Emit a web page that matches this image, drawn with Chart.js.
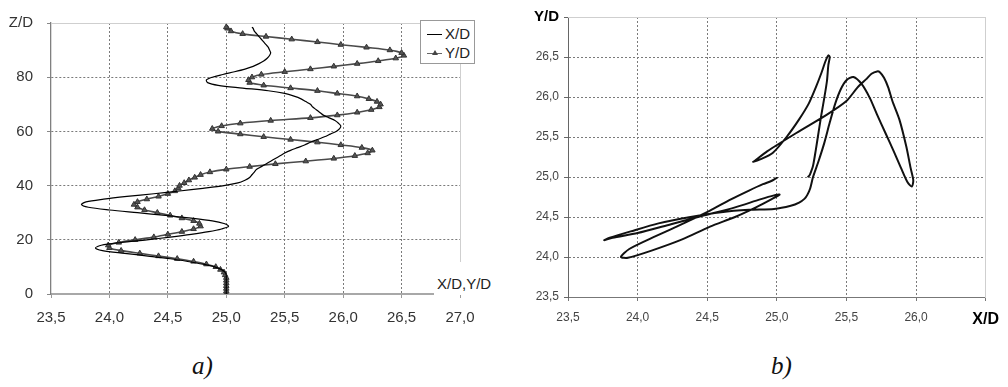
<!DOCTYPE html>
<html>
<head>
<meta charset="utf-8">
<script src="https://cdn.jsdelivr.net/npm/chart.js@4.4.1/dist/chart.umd.min.js"></script>
<style>
  body { margin: 0; background: #fff; font-family: "Liberation Sans", Arial, sans-serif; }
  #wrap { position: relative; width: 1008px; height: 387px; overflow: hidden; }
  canvas { position: absolute; top: 0; }
  #ca { left: 0; }
  #cb { left: 500px; }
  .lbl { position: absolute; color: #222; font-size: 15px; line-height: 18px; white-space: nowrap; }
  #legend { position: absolute; left: 420px; top: 20px; width: 53px; height: 42px; border: 1px solid #999; background: #fff; }
  #legend .ln { position: absolute; left: 6px; width: 15px; height: 0; }
  #legend .tri { position: absolute; left: 11px; width: 0; height: 0; border-left: 3px solid transparent; border-right: 3px solid transparent; border-bottom: 5px solid #444; }
  .cap { position: absolute; top: 352px; font-family: "Liberation Serif", serif; font-style: italic; font-size: 25px; color: #111; }
</style>
</head>
<body>
<div id="wrap">
  <canvas id="ca" width="500" height="340"></canvas>
  <canvas id="cb" width="508" height="340"></canvas>
  <div id="legend">
    <span class="ln" style="top:13px;border-top:1px solid #000"></span>
    <span class="lbl" style="left:24px;top:4px">X/D</span>
    <span class="ln" style="top:32px;border-top:1px solid #666"></span>
    <span class="tri" style="top:29px"></span>
    <span class="lbl" style="left:24px;top:23px">Y/D</span>
  </div>
  <div class="lbl" style="left:434px;top:262px;height:33px;padding-top:13px;box-sizing:border-box;background:#fff;padding-left:3px;padding-right:4px">X/D,Y/D</div>
  <div class="cap" style="left:192px">a)</div>
  <div class="cap" style="left:771px">b)</div>
</div>
<script>
const $ = id => document.getElementById(id);
const fmt = v => v.toFixed(1).replace(".", ",");
const is = (c, v) => !!(c && c.tick && Math.abs(c.tick.value - v) < 1e-6);

// height along the jet, Z/D
const zd = [0, 1, 2, 3, 4, 5, 6, 7, 8, 9,
  10, 11, 12, 13, 14, 15, 16, 17, 18, 19,
  20, 21, 22, 23, 24, 25, 26, 27, 28, 29,
  30, 31, 32, 33, 34, 35, 36, 37, 38, 39,
  40, 41, 42, 43, 44, 45, 46, 47, 48, 49,
  50, 51, 52, 53, 54, 55, 56, 57, 58, 59,
  60, 61, 62, 63, 64, 65, 66, 67, 68, 69,
  70, 71, 72, 73, 74, 75, 76, 77, 78, 79,
  80, 81, 82, 83, 84, 85, 86, 87, 88, 89,
  90, 91, 92, 93, 94, 95, 96, 97, 98, 98.5];

// X/D at each Z/D
const xd = [25.0, 25.0, 25.0, 25.0, 25.0, 25.0, 25.0, 25.0, 24.99, 24.96,
  24.9, 24.8, 24.67, 24.52, 24.33, 24.13, 23.94, 23.88, 23.93, 24.1,
  24.32, 24.52, 24.7, 24.85, 24.96, 25.02, 24.98, 24.88, 24.7, 24.48,
  24.24, 24.0, 23.82, 23.76, 23.8, 23.95, 24.15, 24.38, 24.6, 24.8,
  24.98, 25.1, 25.16, 25.2, 25.22, 25.24, 25.26, 25.3, 25.34, 25.38,
  25.42, 25.46, 25.5, 25.55, 25.61, 25.67, 25.72, 25.78, 25.84, 25.89,
  25.94, 25.97, 25.98, 25.96, 25.93, 25.88, 25.83, 25.8, 25.77, 25.74,
  25.72, 25.68, 25.64, 25.58, 25.5, 25.36, 25.14, 24.93, 24.84, 24.83,
  24.88, 24.97, 25.07, 25.16, 25.23, 25.28, 25.32, 25.35, 25.37, 25.38,
  25.37, 25.36, 25.34, 25.32, 25.3, 25.28, 25.26, 25.24, 25.23, 25.22];

// Y/D at each Z/D
const yd = [25.0, 25.0, 25.0, 25.0, 25.0, 25.0, 25.0, 24.99, 24.98, 24.95,
  24.91, 24.83, 24.72, 24.58, 24.42, 24.26, 24.1, 24.0, 23.99, 24.08,
  24.22, 24.38, 24.5, 24.62, 24.72, 24.78, 24.77, 24.72, 24.62, 24.52,
  24.41, 24.3, 24.24, 24.21, 24.24, 24.32, 24.42, 24.5, 24.56, 24.59,
  24.6, 24.64, 24.68, 24.73, 24.78, 24.86, 25.0, 25.2, 25.42, 25.68,
  25.92, 26.1, 26.21, 26.25, 26.16, 25.98, 25.78, 25.55, 25.32, 25.12,
  24.93, 24.88, 24.96, 25.12, 25.38, 25.72, 25.95, 26.12, 26.24, 26.31,
  26.32, 26.29, 26.22, 26.12, 25.95, 25.78, 25.55, 25.32, 25.2, 25.19,
  25.22, 25.3, 25.5, 25.72, 25.92, 26.12, 26.3, 26.45, 26.52, 26.5,
  26.4, 26.2, 25.98, 25.78, 25.56, 25.34, 25.14, 25.04, 25.01, 25.0];

const gridCol = (max, min) => c => (is(c, max) || is(c, min)) ? "rgba(0,0,0,0)" : "#7a7a7a";

function frame(pos, min, max) {
  return {
    type: "linear", position: pos, min, max, display: true,
    grid: { display: false, drawTicks: false },
    ticks: { display: false },
    border: { color: "#cfcfcf", width: 1 },
    afterFit: s => { if (pos === "top") s.height = 0; else s.width = 0; },
  };
}

new Chart($("ca"), {
  type: "scatter",
  data: {
    datasets: [
      {
        label: "X/D",
        data: zd.map((z, i) => ({ x: xd[i], y: z })),
        showLine: true, borderColor: "#000", borderWidth: 1.2,
        pointRadius: 0, tension: 0.3,
      },
      {
        label: "Y/D",
        data: zd.map((z, i) => ({ x: yd[i], y: z })),
        showLine: true, borderColor: "#4a4a4a", borderWidth: 1.6,
        pointStyle: "triangle", pointRadius: 3.2,
        pointBackgroundColor: "#555", pointBorderColor: "#333", pointBorderWidth: 1,
        tension: 0.3,
      },
    ],
  },
  options: {
    responsive: false, animation: false, events: [],
    layout: { padding: { top: 16, right: 40, bottom: 6, left: 0 } },
    plugins: { legend: { display: false }, tooltip: { enabled: false } },
    scales: {
      x: {
        min: 23.5, max: 27, afterFit: s => { s.height = 40; },
        ticks: { stepSize: 0.5, padding: 11, color: "#333", font: { size: 15, family: "Liberation Sans" }, callback: v => fmt(v) },
        grid: { color: gridCol(27, 23.5), lineWidth: 1, tickLength: 4, tickColor: "#9a9a9a", tickBorderDash: [] },
        border: { color: "#a8a8a8", width: 2, dash: [2, 2] },
      },
      y: {
        min: 0, max: 100, afterFit: s => { s.width = 51; },
        ticks: { stepSize: 20, padding: 14, color: "#333", font: { size: 15, family: "Liberation Sans" }, callback: v => v === 100 ? "Z/D" : v },
        grid: { color: gridCol(100, 0), lineWidth: 1, tickLength: 4, tickColor: "#888", tickBorderDash: [] },
        border: { color: "#808080", width: 1.3, dash: [2, 2] },
      },
      xt: frame("top", 23.5, 27),
      yr: frame("right", 0, 100),
    },
  },
});

new Chart($("cb"), {
  type: "scatter",
  data: {
    datasets: [{
      data: zd.map((z, i) => ({ x: xd[i], y: yd[i] })),
      showLine: true, borderColor: "#111", borderWidth: 2,
      pointRadius: 0, tension: 0.25,
    }],
  },
  options: {
    responsive: false, animation: false, events: [],
    layout: { padding: { top: 17, right: 18, bottom: 6, left: 0 } },
    plugins: { legend: { display: false }, tooltip: { enabled: false } },
    scales: {
      x: {
        min: 23.5, max: 26.5, afterFit: s => { s.height = 37; },
        ticks: {
          stepSize: 0.5, padding: 9,
          color: c => is(c, 26.5) ? "#000" : "#444",
          font: c => is(c, 26.5) ? { size: 16, weight: "bold", family: "Liberation Sans" } : { size: 12, family: "Liberation Sans" },
          callback: v => Math.abs(v - 26.5) < 1e-6 ? "X/D" : fmt(v),
        },
        grid: { color: gridCol(26.5, 23.5), lineWidth: 1, tickLength: 4, tickColor: "#777", tickBorderDash: [] },
        border: { color: "#777", width: 1, dash: [2, 2] },
      },
      y: {
        min: 23.5, max: 27, afterFit: s => { s.width = 68; },
        ticks: {
          stepSize: 0.5, padding: 5,
          color: c => is(c, 27) ? "#000" : "#444",
          font: c => is(c, 27) ? { size: 15, weight: "bold", family: "Liberation Sans" } : { size: 12, family: "Liberation Sans" },
          callback: v => Math.abs(v - 27) < 1e-6 ? "Y/D" : fmt(v),
        },
        grid: { color: gridCol(27, 23.5), lineWidth: 1, tickLength: 4, tickColor: "#666", tickBorderDash: [] },
        border: { color: "#666", width: 1, dash: [2, 2] },
      },
      xt: frame("top", 23.5, 26.5),
      yr: frame("right", 23.5, 27),
    },
  },
});
</script>
</body>
</html>
